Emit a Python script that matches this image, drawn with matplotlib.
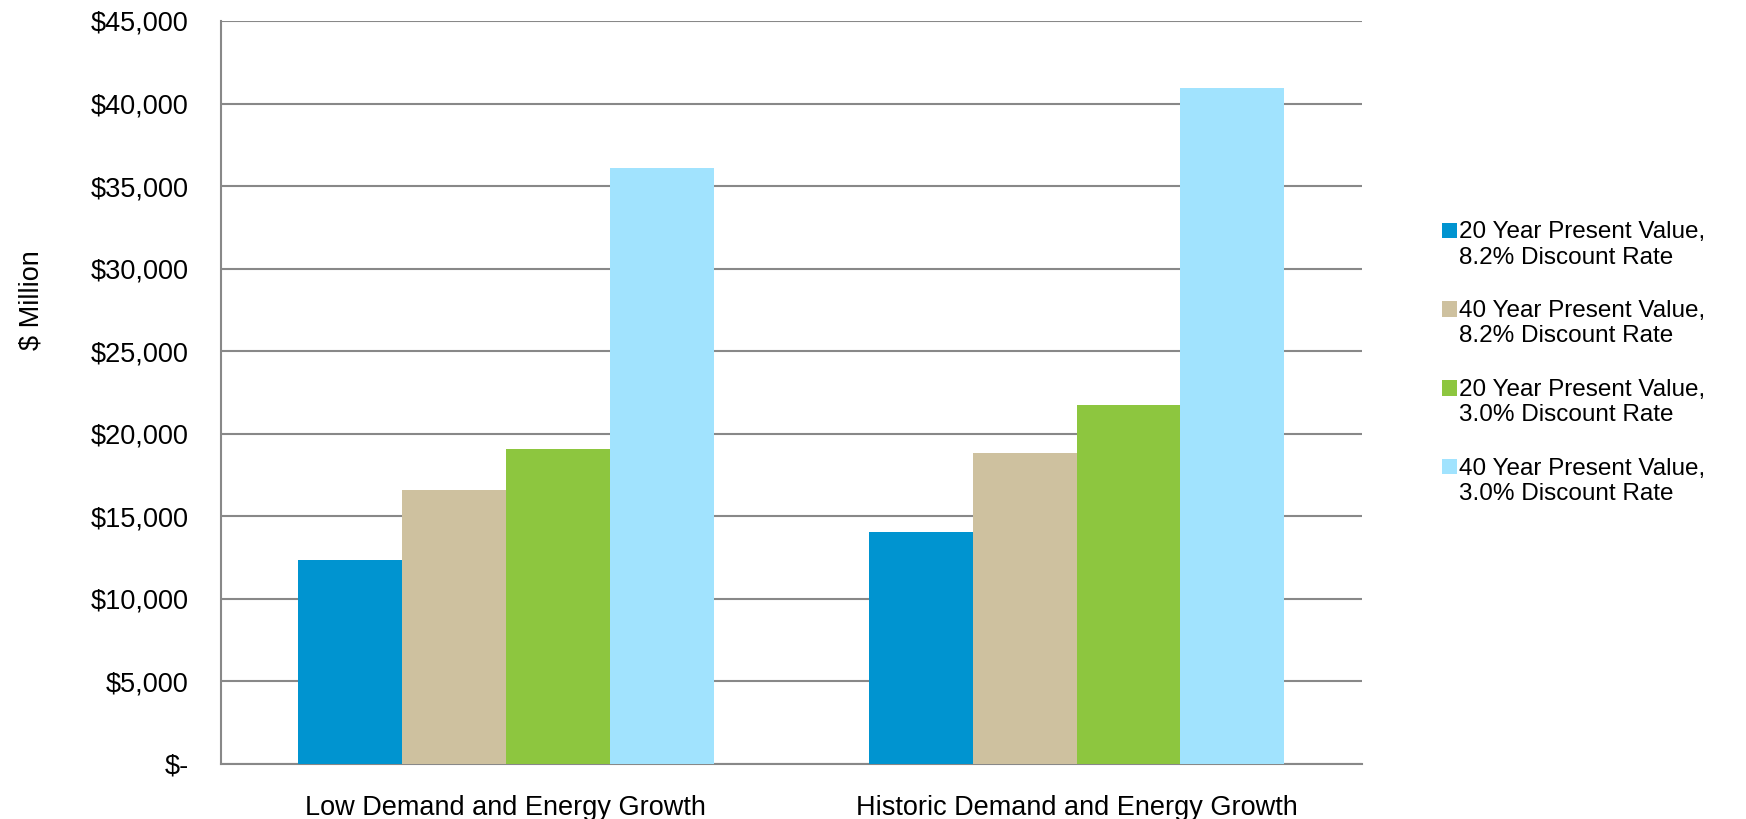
import matplotlib
matplotlib.use("Agg")
from matplotlib import pyplot as plt
from matplotlib.ticker import FuncFormatter
from matplotlib.legend_handler import HandlerPatch
from matplotlib.patches import Rectangle
from matplotlib.container import BarContainer
import numpy as np

plt.rcParams['font.family'] = ['Liberation Sans', 'DejaVu Sans']

categories = ["Low Demand and Energy Growth", "Historic Demand and Energy Growth"]
series_names = ["20 Year Present Value,\n8.2% Discount Rate",
                "40 Year Present Value,\n8.2% Discount Rate",
                "20 Year Present Value,\n3.0% Discount Rate",
                "40 Year Present Value,\n3.0% Discount Rate"]
pv20_82 = [12350, 14050]
pv40_82 = [16600, 18830]
pv20_30 = [19100, 21730]
pv40_30 = [36100, 40950]
colors = ["#0094d0", "#cec19f", "#8dc63f", "#a1e3fe"]

TICK_FS = 19.5
LEG_FS = 17.5


def money(v, pos):
    if v == 0:
        return "$-"
    return f"${v:,.0f}"


# legend swatch sits next to the first line of a two-line label
def top_square(legend, orig_handle, xdescent, ydescent, width, height, fontsize):
    return Rectangle((-xdescent, -ydescent + 0.6 * fontsize), width, height)


def from_first_bar(handle, container):
    handle.update_from(container.patches[0])


fig = plt.figure(figsize=(17.46, 8.19), dpi=100)
ax = fig.add_axes([0.1263, 0.0672, 0.6537, 0.9072])

x = np.arange(len(categories))
width = 0.182
for i, (vals, name) in enumerate(zip([pv20_82, pv40_82, pv20_30, pv40_30], series_names)):
    ax.bar(x + (i - 1.5) * width, vals, width, color=colors[i], label=name, zorder=3)

ax.set_xlim(-0.5, 1.5)
ax.set_ylim(0, 45000)
ax.set_yticks(np.arange(0, 45001, 5000))
ax.yaxis.set_major_formatter(FuncFormatter(money))
ax.set_xticks(x)
ax.set_xticklabels(categories)
ax.grid(axis="y", color="#888888", linewidth=1.5, zorder=0)
ax.tick_params(axis="both", length=0, labelsize=TICK_FS)
ax.tick_params(axis="x", pad=22.5)
ax.tick_params(axis="y", pad=23)
for side in ["top", "right"]:
    ax.spines[side].set_visible(False)
for side in ["left", "bottom"]:
    ax.spines[side].set_color("#888888")
    ax.spines[side].set_linewidth(1.5)
fig.text(0.0178, 0.633, "$ Million", rotation=90, ha="center", va="center",
         fontsize=TICK_FS)

ax.legend(loc="center left", bbox_to_anchor=(1.051, 0.5395), frameon=False,
          fontsize=LEG_FS, handlelength=0.6, handleheight=0.6, handletextpad=0.1,
          labelspacing=1.29,
          handler_map={BarContainer: HandlerPatch(patch_func=top_square,
                                                  update_func=from_first_bar)})

fig.savefig("out.png")
